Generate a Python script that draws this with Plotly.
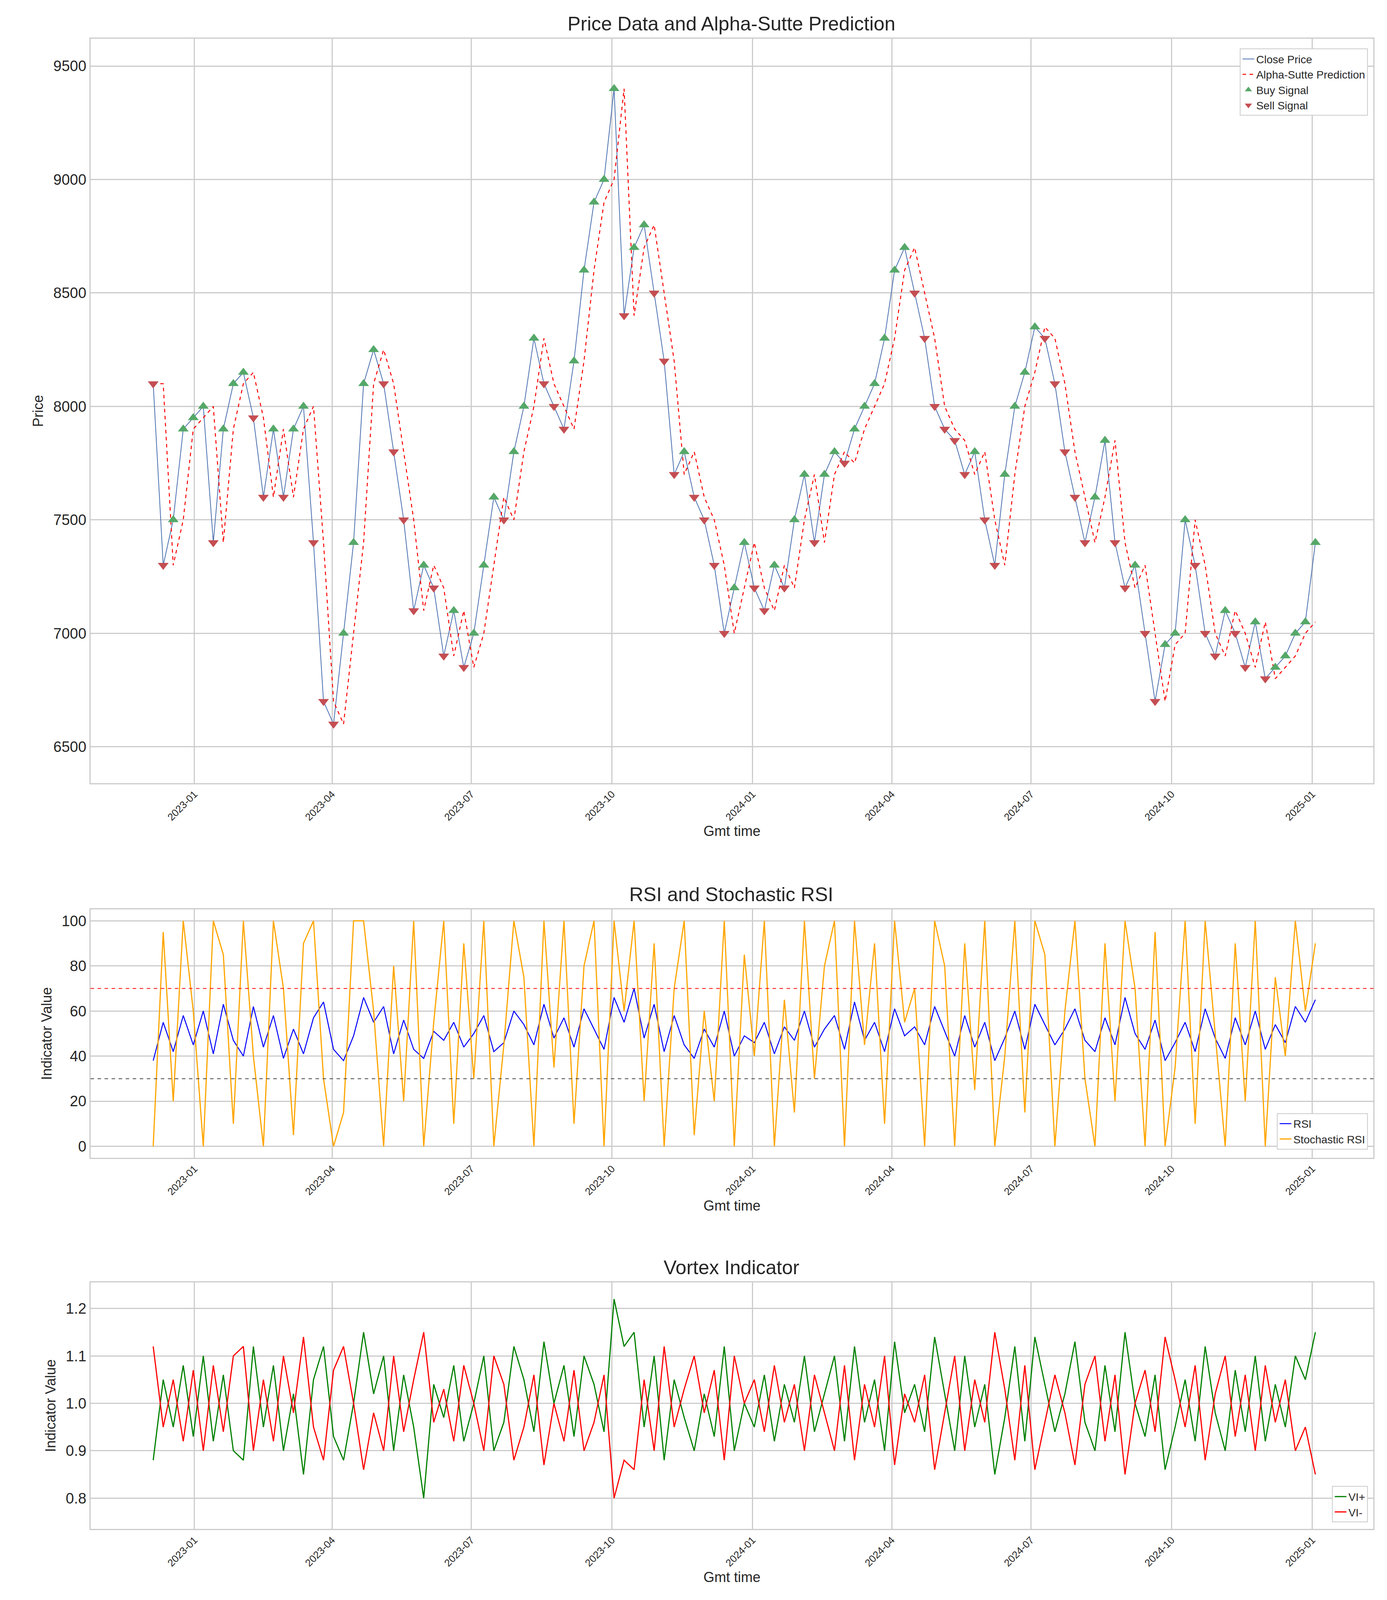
import numpy as np
import pandas as pd
import plotly.graph_objects as go
from plotly.subplots import make_subplots

# weekly readings
close_price = [8100, 7300, 7500, 7900, 7950,
               8000, 7400, 7900, 8100, 8150,
               7950, 7600, 7900,
               7600, 7900, 8000, 7400, 6700, 6600,
               7000, 7400, 8100, 8250, 8100,
               7800, 7500, 7100, 7300,
               7200, 6900, 7100, 6850,
               7000, 7300, 7600, 7500, 7800,
               8000, 8300, 8100, 8000, 7900,
               8200, 8600, 8900, 9000, 9400,
               8400, 8700, 8800, 8500, 8200,
               7700, 7800, 7600, 7500,
               7300, 7000, 7200, 7400, 7200,
               7100, 7300, 7200, 7500, 7700,
               7400, 7700, 7800, 7750,
               7900, 8000, 8100, 8300, 8600,
               8700, 8500, 8300, 8000,
               7900, 7850, 7700, 7800, 7500,
               7300, 7700, 8000, 8150, 8350,
               8300, 8100, 7800, 7600, 7400,
               7600, 7850, 7400, 7200, 7300,
               7000, 6700, 6950, 7000,
               7500, 7300, 7000, 6900, 7100,
               7000, 6850, 7050, 6800,
               6850, 6900, 7000, 7050, 7400]

rsi = [38, 55, 42, 58, 45, 60, 41, 63, 47, 40, 62, 44, 58, 39, 52, 41, 57, 64, 43, 38, 49,
       66, 55, 62, 41, 56, 43, 39, 51, 47, 55, 44, 50, 58, 42, 46, 60, 54, 45, 63, 48,
       57, 44, 61, 52, 43, 66, 55, 70, 48, 63, 42, 58, 45, 39, 52, 44, 60, 40, 49, 46,
       55, 41, 53, 47, 60, 44, 52, 58, 43, 64, 47, 55, 42, 61, 49, 53, 45, 62, 51, 40,
       58, 44, 55, 38, 48, 60, 43, 63, 54, 45, 52, 61, 47, 42, 57, 45, 66, 50, 43, 56,
       38, 46, 55, 42, 61, 48, 39, 57, 45, 60, 43, 54, 46, 62, 55, 65]

stoch_rsi = [0, 95, 20, 100, 60, 0, 100, 85, 10, 100, 40, 0, 100, 70, 5, 90, 100, 30, 0, 15, 100,
             100, 60, 0, 80, 20, 100, 0, 55, 100, 10, 90, 30, 100, 0, 45, 100, 75, 0, 100, 35,
             100, 10, 80, 100, 0, 100, 60, 100, 20, 90, 0, 70, 100, 5, 60, 20, 100, 0, 85, 40,
             100, 0, 65, 15, 100, 30, 80, 100, 0, 100, 45, 90, 10, 100, 55, 70, 0, 100, 80, 0,
             90, 25, 100, 0, 40, 100, 15, 100, 85, 0, 60, 100, 30, 0, 90, 20, 100, 70, 0, 95,
             0, 35, 100, 10, 100, 50, 0, 90, 20, 100, 0, 75, 40, 100, 60, 90]

vi_plus = [0.88, 1.05, 0.95, 1.08, 0.93, 1.10, 0.92, 1.06, 0.90, 0.88, 1.12, 0.95, 1.08, 0.90, 1.02, 0.85,
           1.05, 1.12, 0.93, 0.88, 1.00, 1.15, 1.02, 1.10, 0.90, 1.06, 0.95, 0.80, 1.04, 0.97, 1.08,
           0.92, 1.00, 1.10, 0.90, 0.96, 1.12, 1.05, 0.94, 1.13, 1.00, 1.08, 0.93, 1.10, 1.04, 0.94,
           1.22, 1.12, 1.15, 0.95, 1.10, 0.88, 1.05, 0.97, 0.90, 1.02, 0.93, 1.12, 0.90, 1.00, 0.95,
           1.06, 0.92, 1.04, 0.96, 1.10, 0.94, 1.02, 1.10, 0.92, 1.12, 0.96, 1.05, 0.90, 1.13, 0.98,
           1.04, 0.94, 1.14, 1.02, 0.90, 1.10, 0.95, 1.04, 0.85, 0.97, 1.12, 0.92, 1.14, 1.04, 0.94,
           1.02, 1.13, 0.96, 0.90, 1.08, 0.94, 1.15, 1.00, 0.93, 1.06, 0.86, 0.95, 1.05, 0.92, 1.12,
           0.98, 0.90, 1.07, 0.94, 1.10, 0.92, 1.04, 0.95, 1.10, 1.05, 1.15]

vi_minus = [1.12, 0.95, 1.05, 0.92, 1.07, 0.90, 1.08, 0.94, 1.10, 1.12, 0.90, 1.05, 0.92, 1.10, 0.98, 1.14,
            0.95, 0.88, 1.07, 1.12, 1.00, 0.86, 0.98, 0.90, 1.10, 0.94, 1.05, 1.15, 0.96, 1.03, 0.92,
            1.08, 1.00, 0.90, 1.10, 1.04, 0.88, 0.95, 1.06, 0.87, 1.00, 0.92, 1.07, 0.90, 0.96, 1.06,
            0.80, 0.88, 0.86, 1.05, 0.90, 1.12, 0.95, 1.03, 1.10, 0.98, 1.07, 0.88, 1.10, 1.00, 1.05,
            0.94, 1.08, 0.96, 1.04, 0.90, 1.06, 0.98, 0.90, 1.08, 0.88, 1.04, 0.95, 1.10, 0.87, 1.02,
            0.96, 1.06, 0.86, 0.98, 1.10, 0.90, 1.05, 0.96, 1.15, 1.03, 0.88, 1.08, 0.86, 0.96, 1.06,
            0.98, 0.87, 1.04, 1.10, 0.92, 1.06, 0.85, 1.00, 1.07, 0.94, 1.14, 1.05, 0.95, 1.08, 0.88,
            1.02, 1.10, 0.93, 1.06, 0.90, 1.08, 0.96, 1.05, 0.90, 0.95, 0.85]

def n(lst):
    return pd.date_range('2022-12-05', '2025-01-03', periods=len(lst))

close = np.array(close_price, dtype=float)
dates = n(close_price)
pred = np.roll(close, 1)
pred[0] = close[0]
buy = close > pred
sell = ~buy

FONT = 'Liberation Sans, Arial, sans-serif'
fig = make_subplots(rows=3, cols=1)

fig.add_trace(go.Scatter(x=dates, y=close, mode='lines', name='Close Price',
                         line=dict(color='#4c72b0', width=2)), 1, 1)
fig.add_trace(go.Scatter(x=dates, y=pred, mode='lines', name='Alpha-Sutte Prediction',
                         line=dict(color='red', width=2.5, dash='dash')), 1, 1)
fig.add_trace(go.Scatter(x=dates[buy], y=close[buy], mode='markers', name='Buy Signal',
                         marker=dict(symbol='triangle-up', size=24, color='#55a868')), 1, 1)
fig.add_trace(go.Scatter(x=dates[sell], y=close[sell], mode='markers', name='Sell Signal',
                         marker=dict(symbol='triangle-down', size=24, color='#c44e52')), 1, 1)

fig.add_trace(go.Scatter(x=n(rsi), y=rsi, mode='lines', name='RSI',
                         line=dict(color='blue', width=2.5), legend='legend2'), 2, 1)
fig.add_trace(go.Scatter(x=n(stoch_rsi), y=stoch_rsi, mode='lines', name='Stochastic RSI',
                         line=dict(color='orange', width=3), legend='legend2'), 2, 1)
fig.add_hline(y=70, line=dict(color='red', width=2, dash='dash'), row=2, col=1)
fig.add_hline(y=30, line=dict(color='#444444', width=2, dash='dash'), row=2, col=1)

fig.add_trace(go.Scatter(x=n(vi_plus), y=vi_plus, mode='lines', name='VI+',
                         line=dict(color='green', width=3), legend='legend3'), 3, 1)
fig.add_trace(go.Scatter(x=n(vi_minus), y=vi_minus, mode='lines', name='VI-',
                         line=dict(color='red', width=3), legend='legend3'), 3, 1)

domains = [(0.519, 0.978), (0.288, 0.441), (0.059, 0.211)]
titles = ['Price Data and Alpha-Sutte Prediction', 'RSI and Stochastic RSI', 'Vortex Indicator']
ylabels = ['Price', 'Indicator Value', 'Indicator Value']
ax = dict(showgrid=True, gridcolor='#cccccc', gridwidth=3, showline=True, linecolor='#cccccc',
          linewidth=3, mirror=True, zeroline=False, ticks='')
for i in range(3):
    fig.update_xaxes(ax, domain=[0.063, 0.988], row=i + 1, col=1, range=['2022-10-25', '2025-02-10'],
                     dtick='M3', tickformat='%Y-%m', tickangle=-45, tickfont=dict(size=26),
                     title=dict(text='Gmt time', font=dict(size=36), standoff=10))
    fig.update_yaxes(ax, domain=list(domains[i]), row=i + 1, col=1, tickfont=dict(size=38),
                     title=dict(text=ylabels[i], font=dict(size=36), standoff=15))
    fig.add_annotation(text=titles[i], xref='paper', yref='paper', x=0.525, y=domains[i][1],
                       yanchor='bottom', yshift=8, showarrow=False, font=dict(size=50))
fig.update_yaxes(range=[6340, 9620], dtick=500, row=1, col=1)
fig.update_yaxes(range=[-5, 105], dtick=20, row=2, col=1)
fig.update_yaxes(range=[0.735, 1.255], dtick=0.1, tickformat='.1f', row=3, col=1)

leg = dict(bgcolor='white', bordercolor='#cccccc', borderwidth=2, font=dict(size=28),
           xanchor='right', x=0.984)
fig.update_layout(
    width=3551, height=4151, plot_bgcolor='white', paper_bgcolor='white',
    font=dict(family=FONT, color='#262626'),
    margin=dict(l=0, r=0, t=0, b=0),
    legend=dict(leg, y=0.972, yanchor='top'),
    legend2=dict(leg, y=0.293, yanchor='bottom'),
    legend3=dict(leg, y=0.063, yanchor='bottom'),
)
fig.write_html('out.html')
